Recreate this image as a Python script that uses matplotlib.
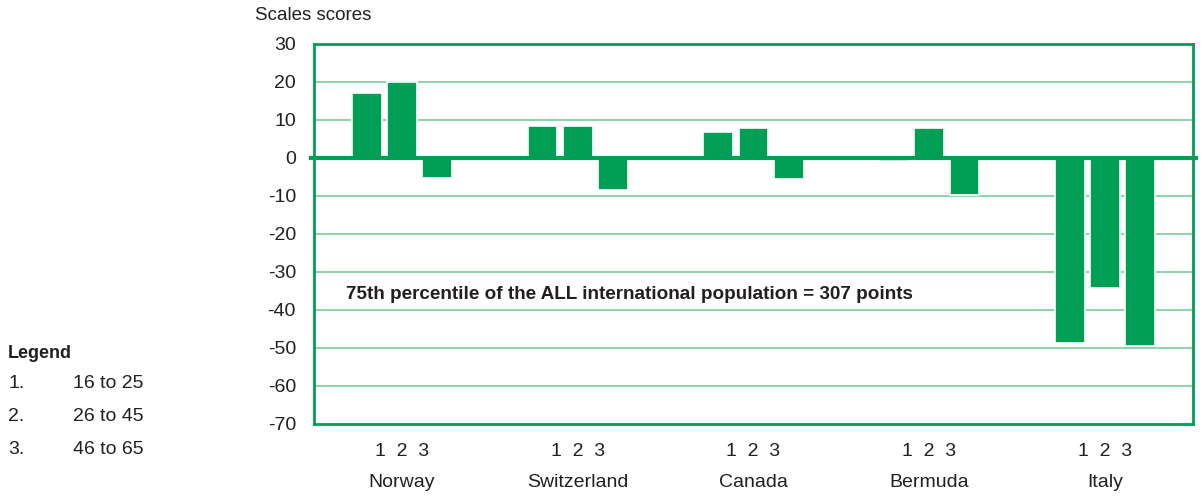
import matplotlib
matplotlib.use("Agg")
import matplotlib.pyplot as plt
import numpy as np

plt.rcParams['font.family'] = ['Liberation Sans', 'DejaVu Sans']

countries = ["Norway", "Switzerland", "Canada", "Bermuda", "Italy"]
age_groups = ["1", "2", "3"]
legend_labels = ["16 to 25", "26 to 45", "46 to 65"]
# scale-score differences per age group (1, 2, 3) for each country
scores = {
    "1": [17.0, 8.5, 6.9, -0.8, -48.8],
    "2": [20.0, 8.5, 8.0, 8.0, -34.2],
    "3": [-5.3, -8.3, -5.6, -9.8, -49.6],
}
y_ticks = list(range(-70, 31, 10))
note = "75th percentile of the ALL international population = 307 points"

GREEN = "#009F55"
GRID = "#93D2AC"
TEXT = "#231F20"

fig = plt.figure(figsize=(12.03, 4.97), dpi=100)
ax = fig.add_axes([0.261, 0.147, 0.7307, 0.7645])

x = np.arange(len(countries))
offsets = [-0.2, 0.0, 0.2]
for off, g in zip(offsets, age_groups):
    ax.bar(x + off, scores[g], width=0.17, color=GREEN,
           edgecolor="white", linewidth=1.2, zorder=3)

ax.set_xlim(-0.5, len(countries) - 0.5)
ax.set_ylim(-70, 30)
ax.set_yticks(y_ticks)
ax.set_yticklabels([str(v) for v in y_ticks], fontsize=14, color=TEXT)
ax.tick_params(axis="y", length=0, pad=13)
ax.set_xticks([])

for v in y_ticks[1:-1]:
    if v != 0:
        ax.axhline(v, color=GRID, linewidth=1.5, zorder=1)
ax.axhline(0, xmin=-0.003, xmax=1.003, color=GREEN, linewidth=3, zorder=4,
           clip_on=False)

for s in ax.spines.values():
    s.set_color(GREEN)
    s.set_linewidth(2)

# group labels under the axis
for xi, name in zip(x, countries):
    ax.text(xi, -77.2, "1  2  3", ha="center", va="center", fontsize=14,
            color=TEXT, clip_on=False)
    ax.text(xi, -85.4, name, ha="center", va="center", fontsize=14,
            color=TEXT, clip_on=False)

ax.text(-0.32, -36, note, ha="left", va="center", fontsize=13.6,
        fontweight="bold", color=TEXT)

fig.text(255 / 1203, 1 - 16 / 497, "Scales scores", ha="left", va="center",
         fontsize=13.5, color=TEXT)

fig.text(8 / 1203, 1 - 354 / 497, "Legend", ha="left", va="center",
         fontsize=13, fontweight="bold", color=TEXT)
for i, (g, lab) in enumerate(zip(age_groups, legend_labels)):
    yy = 1 - (384 + i * 32.5) / 497
    fig.text(8 / 1203, yy, g + ".", ha="left", va="center", fontsize=14, color=TEXT)
    fig.text(73 / 1203, yy, lab, ha="left", va="center", fontsize=14, color=TEXT)

fig.savefig("out.png", dpi=100, facecolor="white")
